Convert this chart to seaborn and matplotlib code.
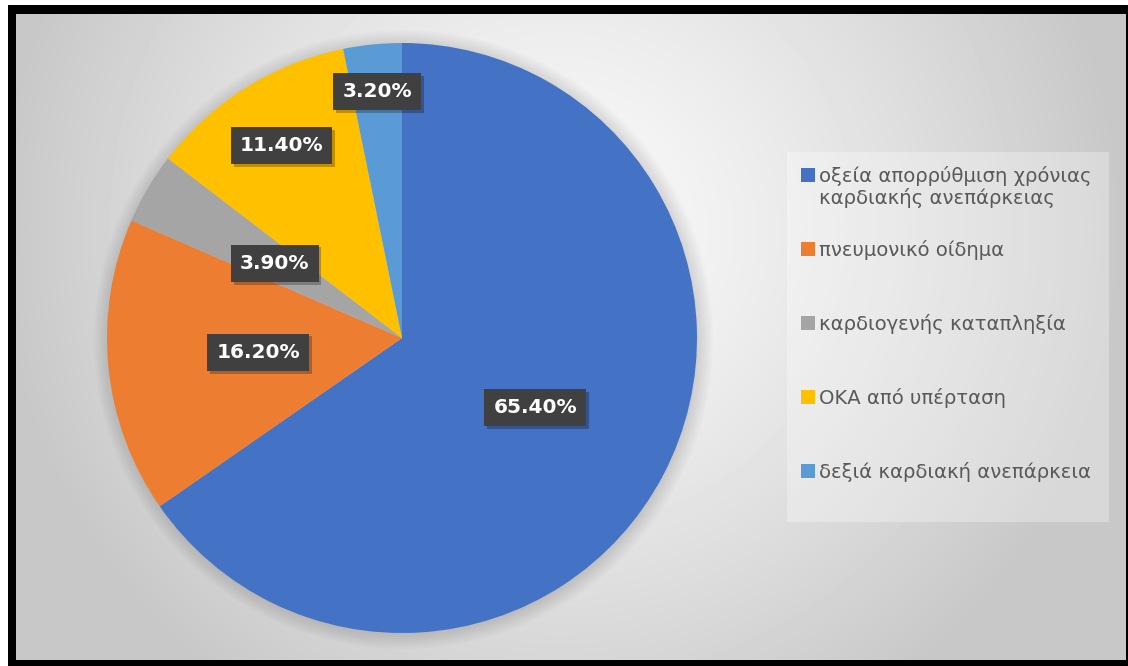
import numpy as np
import matplotlib
matplotlib.use("Agg")
import matplotlib.pyplot as plt
import seaborn as sns
from matplotlib import patheffects as pe
from matplotlib.patches import Rectangle, Circle

# ---- data ----
categories = [
    "οξεία απορρύθμιση χρόνιας\nκαρδιακής ανεπάρκειας",
    "πνευμονικό οίδημα",
    "καρδιογενής καταπληξία",
    "ΟΚΑ από υπέρταση",
    "δεξιά καρδιακή ανεπάρκεια",
]
values = [65.4, 16.2, 3.9, 11.4, 3.2]
pct_labels = ["65.40%", "16.20%", "3.90%", "11.40%", "3.20%"]

# ---- style ----
sns.set_theme(style="white")
plt.rcParams["font.family"] = ["DejaVu Sans"]
palette = sns.color_palette(["#4472C4", "#ED7D31", "#A5A5A5", "#FFC000", "#5B9BD5"])
label_dist = [0.51, 0.49, 0.50, 0.77, 0.84]

W, H = 1128, 666
fig = plt.figure(figsize=(W / 100, H / 100), dpi=100)
fig.patch.set_facecolor("white")

# background layer in pixel coordinates
bg = fig.add_axes([0, 0, 1, 1])
bg.set_xlim(0, W)
bg.set_ylim(H, 0)
bg.axis("off")
bg.add_patch(Rectangle((8, 5), 1120, 661, fc="black", ec="none", zorder=0))
yy, xx = np.mgrid[14:660, 16:1126]
r = np.hypot(xx - 560, yy - 230)
v = np.clip(0.98 - 0.21 * (r / 590) ** 1.3, 0.785, 1)
bg.imshow(v, cmap="gray", vmin=0, vmax=1, extent=(16, 1126, 660, 14),
          aspect="auto", interpolation="bilinear", zorder=1)

# pie
cx, cy, rad = 402, 338, 295
ax = fig.add_axes([(cx - rad) / W, (H - cy - rad) / H, 2 * rad / W, 2 * rad / H])
ax.patch.set_alpha(0)
for k in range(8):
    ax.add_patch(Circle((0.005, -0.005), 1 + 0.007 * k, fc="black", alpha=0.015,
                        ec="none", zorder=0, clip_on=False))
wedges, _ = ax.pie(values, colors=palette, startangle=90, counterclock=False,
                   radius=1, wedgeprops=dict(linewidth=0))
ax.set_xlim(-1, 1)
ax.set_ylim(-1, 1)
ax.set_aspect("equal")
ax.axis("off")

for w, lab, d in zip(wedges, pct_labels, label_dist):
    ang = np.deg2rad((w.theta1 + w.theta2) / 2)
    t = ax.text(d * np.cos(ang), d * np.sin(ang), lab, ha="center", va="center",
                color="white", fontsize=14.5, fontweight="bold", zorder=5,
                bbox=dict(boxstyle="square,pad=0.45", fc="#404040", ec="none"))
    t.get_bbox_patch().set_path_effects([
        pe.SimplePatchShadow(offset=(2, -2), shadow_rgbFace="black", alpha=0.25),
        pe.Normal()])

# legend (drawn in pixel coordinates)
bg.add_patch(Rectangle((787, 152), 322, 370, fc="white", alpha=0.3, ec="none", zorder=3))
y0, step = 174.5, 74
for i, (cat, col) in enumerate(zip(categories, palette)):
    yc = y0 + i * step
    bg.add_patch(Rectangle((801, yc - 7), 14, 14, fc=col, ec="none", zorder=4))
    bg.text(819, yc - 9, cat, ha="left", va="top", fontsize=14.1,
            color="#595959", linespacing=1.15, zorder=4)

fig.savefig("out.png", dpi=100)
